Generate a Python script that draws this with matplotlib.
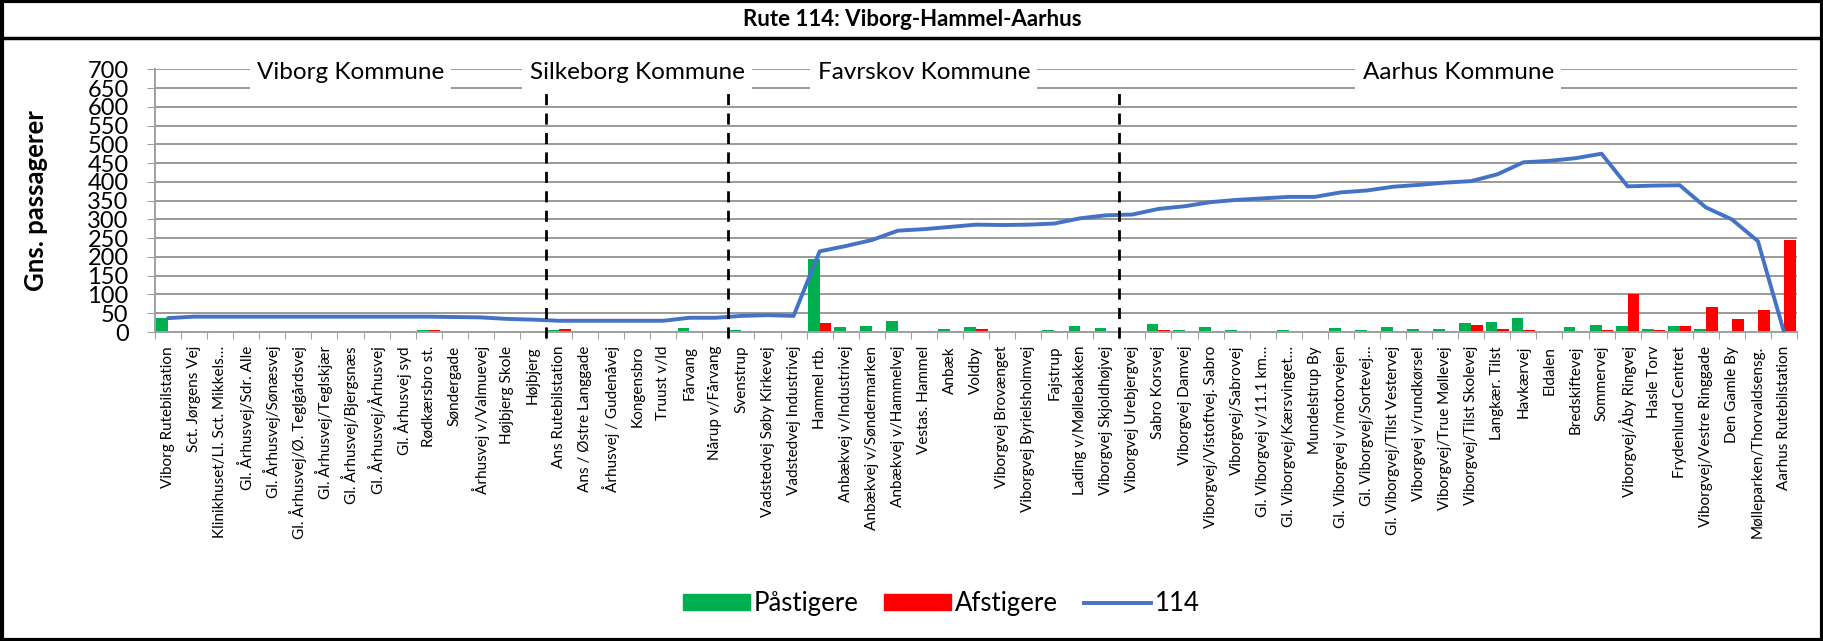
import numpy as np
import matplotlib.pyplot as plt
from matplotlib.lines import Line2D
from matplotlib.patches import Patch

plt.rcParams['font.family'] = ['Lato', 'DejaVu Sans']

stops = ['Viborg Rutebilstation', 'Sct. Jørgens Vej', 'Klinikhuset/Ll. Sct. Mikkels…',
         'Gl. Århusvej/Sdr. Alle', 'Gl. Århusvej/Sønæsvej', 'Gl. Århusvej/Ø. Teglgårdsvej',
         'Gl. Århusvej/Teglskjær', 'Gl. Århusvej/Bjergsnæs', 'Gl. Århusvej/Århusvej',
         'Gl. Århusvej syd', 'Rødkærsbro st.', 'Søndergade', 'Århusvej v/Valmuevej',
         'Højbjerg Skole', 'Højbjerg', 'Ans Rutebilstation', 'Ans / Østre Langgade',
         'Århusvej / Gudenåvej', 'Kongensbro', 'Truust v/ld', 'Fårvang', 'Nårup v/Fårvang',
         'Svenstrup', 'Vadstedvej Søby Kirkevej', 'Vadstedvej Industrivej', 'Hammel rtb.',
         'Anbækvej v/Industrivej', 'Anbækvej v/Søndermarken', 'Anbækvej v/Hammelvej',
         'Vestas. Hammel', 'Anbæk', 'Voldby', 'Viborgvej Brovænget', 'Viborgvej Byrielsholmvej',
         'Fajstrup', 'Lading v/Møllebakken', 'Viborgvej Skjoldhøjvej', 'Viborgvej Urebjergvej',
         'Sabro Korsvej', 'Viborgvej Damvej', 'Viborgvej/Vistoftvej. Sabro', 'Viborgvej/Sabrovej',
         'Gl. Viborgvej v/11.1 km…', 'Gl. Viborgvej/Kærsvinget…', 'Mundelstrup By',
         'Gl. Viborgvej v/motorvejen', 'Gl. Viborgvej/Sortevej…', 'Gl. Viborgvej/Tilst Vestervej',
         'Viborgvej v/rundkørsel', 'Viborgvej/True Møllevej', 'Viborgvej/Tilst Skolevej',
         'Langkær. Tilst', 'Havkærvej', 'Eldalen', 'Bredskiftevej', 'Sommervej',
         'Viborgvej/Åby Ringvej', 'Hasle Torv', 'Frydenlund Centret', 'Viborgvej/Vestre Ringgade',
         'Den Gamle By', 'Mølleparken/Thorvaldsensg.', 'Aarhus Rutebilstation']

paastigere = [37, 4, 0, 0, 0, 0, 0, 0, 0, 0, 5, 0, 0, 0, 0, 5, 0, 0, 0, 0, 11, 0,
              5, 3, 0, 195, 13, 15, 30, 3, 7, 14, 0, 0, 5, 16, 11, 2, 22, 6, 14, 5,
              2, 5, 0, 12, 5, 14, 7, 7, 25, 26, 38, 2, 13, 18, 16, 8, 17, 9, 1, 1, 0]
afstigere = [0, 0, 0, 0, 0, 0, 0, 0, 0, 0, 5, 1, 0, 2, 2, 9, 0, 1, 0, 0, 3, 0,
             0, 0, 2, 25, 0, 0, 3, 0, 2, 8, 1, 0, 2, 2, 4, 1, 5, 1, 3, 0,
             0, 0, 0, 1, 0, 4, 1, 0, 20, 8, 5, 0, 4, 5, 100, 5, 17, 68, 35, 60, 245]
belaegning = [37, 41, 41, 41, 41, 41, 41, 41, 41, 41, 41, 40, 39, 35, 33, 30, 30, 30, 30, 30, 38, 38,
              43, 45, 43, 215, 229, 245, 270, 274, 280, 286, 285, 286, 289, 303, 311, 313, 328, 335, 346, 352,
              356, 360, 360, 372, 377, 387, 392, 398, 402, 420, 452, 456, 463, 475, 388, 390, 391, 332, 300, 242, 0]

kommuner = ['Viborg Kommune', 'Silkeborg Kommune', 'Favrskov Kommune', 'Aarhus Kommune']
kommune_start = [0, 15, 22, 37]

x = np.arange(len(stops))
w = 0.45

fig = plt.figure(figsize=(18.24, 6.41), dpi=100)
ax = fig.add_axes([0.085, 0.482, 0.9002, 0.41])

ax.bar(x - w / 2, paastigere, width=w, color='#00B050', zorder=2)
ax.bar(x + w / 2, afstigere, width=w, color='#FF0000', zorder=2)
ax.plot(x, belaegning, color='#4472C4', lw=2.8, zorder=3, solid_capstyle='round')

ax.set_xlim(-0.5, len(stops) - 0.5)
ax.set_ylim(0, 700)
ax.set_yticks(np.arange(0, 701, 50))
ax.tick_params(axis='y', labelsize=17, length=6, color='#A0A0A0', pad=13)
ax.grid(axis='y', color='#9A9A9A', lw=1.4, zorder=0)

ax.set_xticks(np.arange(-0.5, len(stops)), minor=False)
ax.set_xticklabels([])
ax.set_xticks(x, minor=True)
ax.set_xticklabels(stops, minor=True, rotation=90, fontsize=11)
ax.tick_params(axis='x', which='major', length=5, color='#A0A0A0')
ax.tick_params(axis='x', which='minor', length=0, pad=10)

for s in ['top', 'right']:
    ax.spines[s].set_visible(False)
for s in ['left', 'bottom']:
    ax.spines[s].set_color('#A0A0A0')
    ax.spines[s].set_linewidth(1.4)

ax.set_ylabel('Gns. passagerer', fontsize=18.5, fontweight='bold')
ax.yaxis.set_label_coords(-0.065, 0.5)

# kommune-skel
for b in kommune_start[1:]:
    ax.vlines(b - 0.5, -15, 650, color='black', lw=2, linestyles=(0, (4, 3)), zorder=4, clip_on=False)

ends = kommune_start[1:] + [len(stops)]
for name, a, e in zip(kommuner, kommune_start, ends):
    ax.text((a + e - 1) / 2, 690, name, ha='center', va='center', fontsize=17.5,
            bbox=dict(boxstyle='square,pad=0.3', fc='white', ec='none'), zorder=5, clip_on=False)

# titel og ramme
fig.text(0.5, 0.97, 'Rute 114: Viborg-Hammel-Aarhus', ha='center', va='center',
         fontsize=16, fontweight='bold')
fig.add_artist(Line2D([0, 1], [0.941, 0.941], color='black', lw=2.5, transform=fig.transFigure))
fig.add_artist(plt.Rectangle((0.001, 0.002), 0.998, 0.996, fill=False, ec='black', lw=3,
                             transform=fig.transFigure))

handles = [Patch(color='#00B050', label='Påstigere'), Patch(color='#FF0000', label='Afstigere'),
           Line2D([], [], color='#4472C4', lw=2.8, label='114')]
fig.legend(handles=handles, loc='center', bbox_to_anchor=(0.516, 0.058), ncol=3, frameon=False,
           fontsize=18.5, handlelength=2.6, handleheight=0.6, columnspacing=1.0, handletextpad=0.15)

fig.savefig('out.png', dpi=100)
